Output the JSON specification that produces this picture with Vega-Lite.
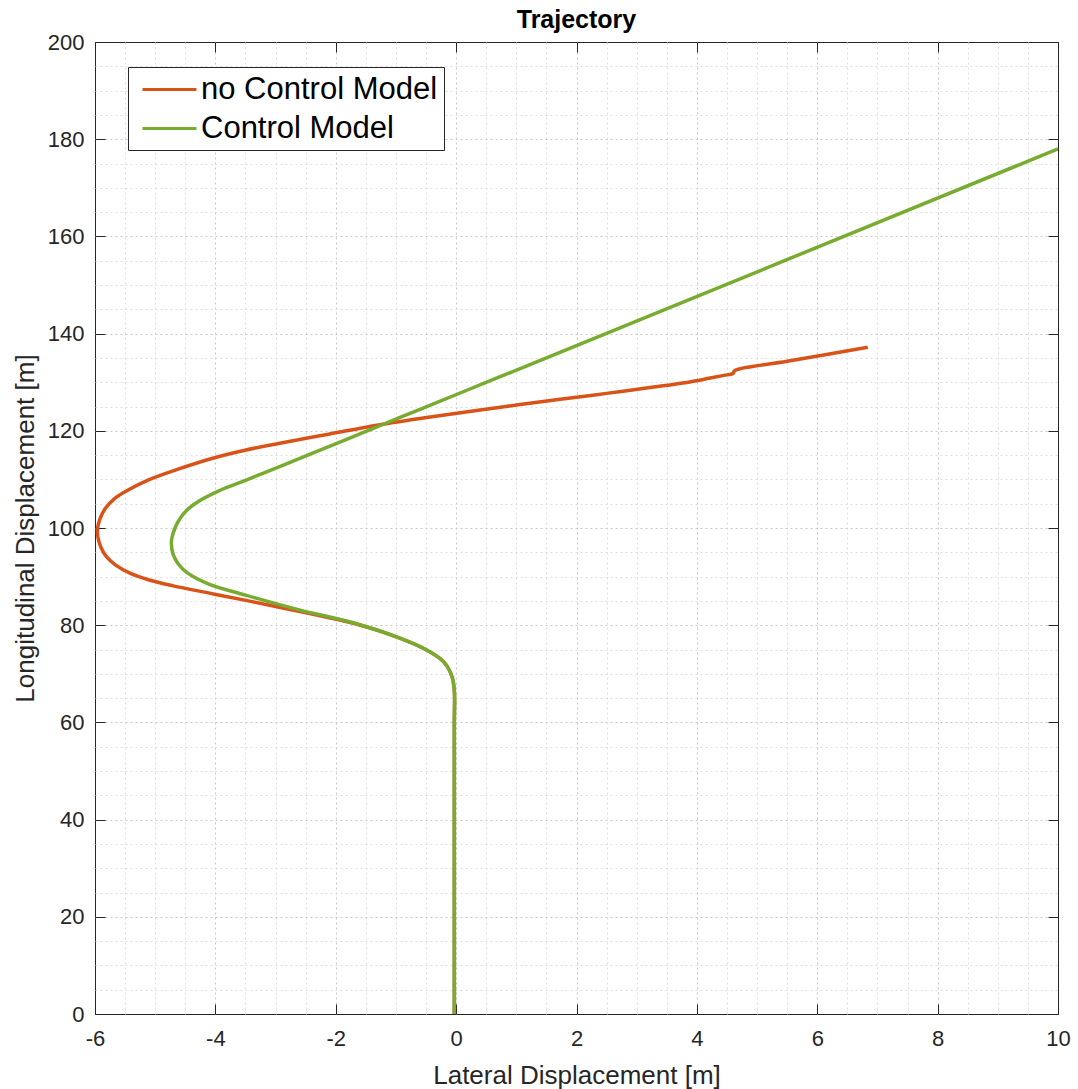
{
  "$schema": "https://vega.github.io/schema/vega-lite/v6.json",
  "width": 963,
  "height": 972,
  "autosize": {"type": "none"},
  "padding": {"left": 95, "top": 42, "right": 20, "bottom": 75},
  "background": "white",
  "title": {"text": "Trajectory", "font": "Liberation Sans", "fontSize": 25, "fontWeight": "bold", "color": "black", "offset": -2},
  "config": {
    "view": {"stroke": "#262626", "strokeWidth": 1},
    "axis": {"labelFont": "Liberation Sans", "titleFont": "Liberation Sans", "labelColor": "#262626", "titleColor": "#262626", "titleFontWeight": "normal", "domain": false, "labelFlush": false}
  },
  "data": {"values": [
    {"s":"no Control Model","o":0,"x":-0.03,"y":0},
    {"s":"no Control Model","o":1,"x":-0.03,"y":30},
    {"s":"no Control Model","o":2,"x":-0.03,"y":60},
    {"s":"no Control Model","o":3,"x":-0.03,"y":66.5},
    {"s":"no Control Model","o":4,"x":-0.07,"y":69.5},
    {"s":"no Control Model","o":5,"x":-0.21,"y":72.5},
    {"s":"no Control Model","o":6,"x":-0.49,"y":74.9},
    {"s":"no Control Model","o":7,"x":-0.99,"y":77.6},
    {"s":"no Control Model","o":8,"x":-1.65,"y":80.2},
    {"s":"no Control Model","o":9,"x":-2.59,"y":82.8},
    {"s":"no Control Model","o":10,"x":-3.45,"y":85.0},
    {"s":"no Control Model","o":11,"x":-4.1,"y":86.6},
    {"s":"no Control Model","o":12,"x":-4.7,"y":88.1},
    {"s":"no Control Model","o":13,"x":-5.1,"y":89.3},
    {"s":"no Control Model","o":14,"x":-5.42,"y":90.7},
    {"s":"no Control Model","o":15,"x":-5.65,"y":92.3},
    {"s":"no Control Model","o":16,"x":-5.81,"y":94.1},
    {"s":"no Control Model","o":17,"x":-5.9,"y":96.0},
    {"s":"no Control Model","o":18,"x":-5.95,"y":98.0},
    {"s":"no Control Model","o":19,"x":-5.96,"y":99.7},
    {"s":"no Control Model","o":20,"x":-5.92,"y":101.8},
    {"s":"no Control Model","o":21,"x":-5.83,"y":104.0},
    {"s":"no Control Model","o":22,"x":-5.67,"y":106.1},
    {"s":"no Control Model","o":23,"x":-5.45,"y":107.8},
    {"s":"no Control Model","o":24,"x":-5.11,"y":109.9},
    {"s":"no Control Model","o":25,"x":-4.62,"y":112.1},
    {"s":"no Control Model","o":26,"x":-4.06,"y":114.3},
    {"s":"no Control Model","o":27,"x":-3.51,"y":116.0},
    {"s":"no Control Model","o":28,"x":-2.95,"y":117.4},
    {"s":"no Control Model","o":29,"x":-2.12,"y":119.3},
    {"s":"no Control Model","o":30,"x":-1.29,"y":121.2},
    {"s":"no Control Model","o":31,"x":-0.4,"y":122.9},
    {"s":"no Control Model","o":32,"x":0.4,"y":124.3},
    {"s":"no Control Model","o":33,"x":1.06,"y":125.4},
    {"s":"no Control Model","o":34,"x":1.73,"y":126.5},
    {"s":"no Control Model","o":35,"x":2.5,"y":127.7},
    {"s":"no Control Model","o":36,"x":3.28,"y":129.0},
    {"s":"no Control Model","o":37,"x":3.8,"y":129.9},
    {"s":"no Control Model","o":38,"x":4.2,"y":130.8},
    {"s":"no Control Model","o":39,"x":4.45,"y":131.4},
    {"s":"no Control Model","o":40,"x":4.6,"y":131.8},
    {"s":"no Control Model","o":41,"x":4.63,"y":132.4},
    {"s":"no Control Model","o":42,"x":5.5,"y":134.3},
    {"s":"no Control Model","o":43,"x":6.84,"y":137.2},
    {"s":"Control Model","o":0,"x":-0.03,"y":0},
    {"s":"Control Model","o":1,"x":-0.03,"y":30},
    {"s":"Control Model","o":2,"x":-0.03,"y":60},
    {"s":"Control Model","o":3,"x":-0.03,"y":66.5},
    {"s":"Control Model","o":4,"x":-0.07,"y":69.5},
    {"s":"Control Model","o":5,"x":-0.21,"y":72.5},
    {"s":"Control Model","o":6,"x":-0.49,"y":74.9},
    {"s":"Control Model","o":7,"x":-0.99,"y":77.6},
    {"s":"Control Model","o":8,"x":-1.65,"y":80.3},
    {"s":"Control Model","o":9,"x":-2.59,"y":83.1},
    {"s":"Control Model","o":10,"x":-3.5,"y":86.2},
    {"s":"Control Model","o":11,"x":-4.14,"y":88.6},
    {"s":"Control Model","o":12,"x":-4.53,"y":91.4},
    {"s":"Control Model","o":13,"x":-4.70,"y":94.5},
    {"s":"Control Model","o":14,"x":-4.73,"y":97.3},
    {"s":"Control Model","o":15,"x":-4.70,"y":99.0},
    {"s":"Control Model","o":16,"x":-4.62,"y":101.3},
    {"s":"Control Model","o":17,"x":-4.48,"y":103.6},
    {"s":"Control Model","o":18,"x":-4.25,"y":105.7},
    {"s":"Control Model","o":19,"x":-3.95,"y":107.6},
    {"s":"Control Model","o":20,"x":-3.5,"y":109.8},
    {"s":"Control Model","o":21,"x":-2.9,"y":112.8},
    {"s":"Control Model","o":22,"x":-1.85,"y":118.1},
    {"s":"Control Model","o":23,"x":-1.2,"y":121.4},
    {"s":"Control Model","o":24,"x":-0.6,"y":124.4},
    {"s":"Control Model","o":25,"x":0.23,"y":128.6},
    {"s":"Control Model","o":26,"x":1.44,"y":134.7},
    {"s":"Control Model","o":27,"x":10,"y":178.0}
  ]},
  "resolve": {"axis": {"x": "independent", "y": "independent"}},
  "layer": [
    {
      "transform": [{"filter": "datum.s == 'no Control Model'"}],
      "mark": {"type": "line", "strokeWidth": 3.5, "interpolate": "catmull-rom", "clip": true},
      "encoding": {
        "x": {"field": "x", "type": "quantitative",
          "scale": {"domain": [-6, 10], "nice": false, "zero": false},
          "axis": {"orient": "bottom", "title": "Lateral Displacement [m]", "titleFontSize": 26, "titlePadding": 13, "labelFontSize": 22, "labelPadding": 24, "labelOverlap": false,
            "values": [-6,-5.5,-5,-4.5,-4,-3.5,-3,-2.5,-2,-1.5,-1,-0.5,0,0.5,1,1.5,2,2.5,3,3.5,4,4.5,5,5.5,6,6.5,7,7.5,8,8.5,9,9.5,10],
            "labelExpr": "datum.value % 2 == 0 ? toString(datum.value) : ''",
            "ticks": true, "tickSize": -10, "tickColor": "#262626",
            "tickOpacity": {"condition": {"test": "datum.value % 2 == 0", "value": 1}, "value": 0},
            "grid": true, "gridDash": [2, 3],
            "gridOpacity": {"condition": {"test": "datum.value == -6 || datum.value == 10", "value": 0}, "value": 1},
            "gridColor": {"condition": {"test": "datum.value % 2 == 0", "value": "#c8c8c8"}, "value": "#dedede"}}},
        "y": {"field": "y", "type": "quantitative",
          "scale": {"domain": [0, 200], "nice": false},
          "axis": {"orient": "left", "title": "Longitudinal Displacement [m]", "titleFontSize": 26, "titlePadding": 9, "labelFontSize": 22, "labelPadding": 21, "labelOverlap": false,
            "values": [0,5,10,15,20,25,30,35,40,45,50,55,60,65,70,75,80,85,90,95,100,105,110,115,120,125,130,135,140,145,150,155,160,165,170,175,180,185,190,195,200],
            "labelExpr": "datum.value % 20 == 0 ? toString(datum.value) : ''",
            "ticks": true, "tickSize": -10, "tickColor": "#262626",
            "tickOpacity": {"condition": {"test": "datum.value % 20 == 0", "value": 1}, "value": 0},
            "grid": true, "gridDash": [2, 3],
            "gridOpacity": {"condition": {"test": "datum.value == 0 || datum.value == 200", "value": 0}, "value": 1},
            "gridColor": {"condition": {"test": "datum.value % 20 == 0", "value": "#c8c8c8"}, "value": "#dedede"}}},
        "color": {"field": "s", "type": "nominal",
          "scale": {"domain": ["no Control Model", "Control Model"], "range": ["#D95319", "#77AC30"]},
          "legend": {"title": null, "orient": "none", "legendX": 33, "legendY": 25,
            "symbolType": "M-1.8,0H1.8", "symbolSize": 900, "symbolStrokeWidth": 3,
            "labelFontSize": 31, "labelFont": "Liberation Sans", "labelColor": "black", "labelLimit": 400,
            "strokeColor": "#262626", "fillColor": "white", "padding": 6, "rowPadding": 7, "symbolOffset": 19, "labelOffset": 15}},
        "order": {"field": "o", "type": "quantitative"}
      }
    },
    {
      "transform": [{"filter": "datum.s == 'Control Model'"}],
      "mark": {"type": "line", "strokeWidth": 3.5, "interpolate": "catmull-rom", "clip": true},
      "encoding": {
        "x": {"field": "x", "type": "quantitative",
          "axis": {"orient": "top", "title": null, "labels": false, "grid": false, "domain": false,
            "values": [-6,-4,-2,0,2,4,6,8,10], "ticks": true, "tickSize": -10, "tickColor": "#262626", "tickWidth": 1}},
        "y": {"field": "y", "type": "quantitative",
          "axis": {"orient": "right", "title": null, "labels": false, "grid": false, "domain": false,
            "values": [0,20,40,60,80,100,120,140,160,180,200], "ticks": true, "tickSize": -10, "tickColor": "#262626", "tickWidth": 1}},
        "color": {"field": "s", "type": "nominal"},
        "order": {"field": "o", "type": "quantitative"}
      }
    }
  ]
}
